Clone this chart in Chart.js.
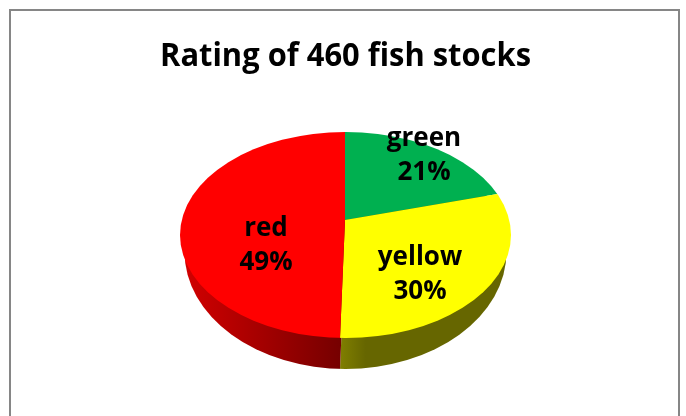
<!DOCTYPE html>
<html>
<head>
<meta charset="utf-8">
<script src="https://cdn.jsdelivr.net/npm/chart.js@4"></script>
<style>
  html, body { margin: 0; padding: 0; background: #fff; }
  canvas { display: block; }
</style>
</head>
<body>
<canvas id="pieChart" width="686" height="416"></canvas>
<script>
const categories = ["green", "yellow", "red"];
const shares = [21, 30, 49];
const sliceColors = ["#00b050", "#ffff00", "#ff0000"];
const chartTitle = "Rating of 460 fish stocks";

// where each two line label sits, same order as categories
const labelSpots = [[424, 139], [420, 258], [266, 229]];

// how the flat pie is laid over to look 3D
const rim = { cx: 345.5, cy: 235, rx: 165.5, ry: 103 };
const base = { cx: 345.5, cy: 252, rx: 161, ry: 117, depth: 31 };
const apex = { x: 345, y: 220, reach: 200, upper: 0.665, lower: 1.49 };

function sideFill(ctx, arc, index, k) {
  // gradient stops are in screen x, convert to the arc's own x
  const toLocal = x => arc.x + (x - apex.x) / k;
  let g;
  if (index === 2) {
    g = ctx.createLinearGradient(toLocal(180), 0, toLocal(340), 0);
    g.addColorStop(0, "#d40000");
    g.addColorStop(1, "#760000");
  } else {
    g = ctx.createLinearGradient(toLocal(340), 0, toLocal(511), 0);
    g.addColorStop(0, "#807f00");
    g.addColorStop(0.15, "#666600");
    g.addColorStop(1, "#666600");
  }
  return g;
}

function drawArcs(chart, shiftY, isSide) {
  const ctx = chart.ctx;
  chart.getDatasetMeta(0).data.forEach((arc, i) => {
    const k = apex.reach / arc.outerRadius;
    [[0, apex.y, apex.upper], [apex.y, 416, apex.lower]].forEach(part => {
      ctx.save();
      ctx.beginPath();
      ctx.rect(0, part[0] + shiftY, 686, part[1] - part[0]);
      ctx.clip();
      ctx.translate(apex.x, apex.y + shiftY);
      ctx.scale(k, k * part[2]);
      ctx.translate(-arc.x, -arc.y);
      const saved = arc.options;
      if (isSide) {
        const o = Object.create(saved);
        o.backgroundColor = sideFill(ctx, arc, i, k);
        arc.options = o;
      }
      arc.draw(ctx);
      arc.options = saved;
      ctx.restore();
    });
  });
}

const tiltPlugin = {
  id: "tilt",
  beforeDraw(chart) {
    const ctx = chart.ctx;
    ctx.save();
    ctx.strokeStyle = "#868686";
    ctx.lineWidth = 2;
    ctx.beginPath();
    ctx.moveTo(10, 416);
    ctx.lineTo(10, 10);
    ctx.lineTo(679, 10);
    ctx.lineTo(679, 416);
    ctx.stroke();
    ctx.restore();
  },
  beforeDatasetsDraw(chart) {
    const ctx = chart.ctx;
    ctx.save();
    ctx.beginPath();
    ctx.ellipse(base.cx, base.cy, base.rx, base.ry, 0, 0, Math.PI * 2);
    ctx.clip();
    drawArcs(chart, base.depth, true);
    ctx.restore();

    ctx.save();
    ctx.beginPath();
    ctx.ellipse(rim.cx, rim.cy, rim.rx, rim.ry, 0, 0, Math.PI * 2);
    ctx.clip();
    drawArcs(chart, 0, false);
    ctx.restore();

    ctx.save();
    ctx.fillStyle = "#000";
    ctx.font = "bold 26px 'Open Sans'";
    ctx.textAlign = "center";
    ctx.textBaseline = "middle";
    categories.forEach((name, i) => {
      ctx.fillText(name, labelSpots[i][0], labelSpots[i][1]);
      ctx.fillText(shares[i] + "%", labelSpots[i][0], labelSpots[i][1] + 34);
    });
    ctx.restore();
    return false;
  }
};

new Chart(document.getElementById("pieChart"), {
  type: "pie",
  data: {
    labels: categories,
    datasets: [{ data: shares, backgroundColor: sliceColors, borderWidth: 0 }]
  },
  options: {
    responsive: false,
    animation: false,
    // side padding also sets the title's width, the font is squeezed to fit it
    layout: { padding: { top: 0, bottom: 40, left: 160, right: 155 } },
    plugins: {
      legend: { display: false },
      tooltip: { enabled: false },
      title: {
        display: true,
        text: chartTitle,
        color: "#000",
        font: { family: "'Open Sans'", size: 33, weight: "700" },
        padding: { top: 37, bottom: 7 }
      }
    }
  },
  plugins: [tiltPlugin]
});
</script>
</body>
</html>
